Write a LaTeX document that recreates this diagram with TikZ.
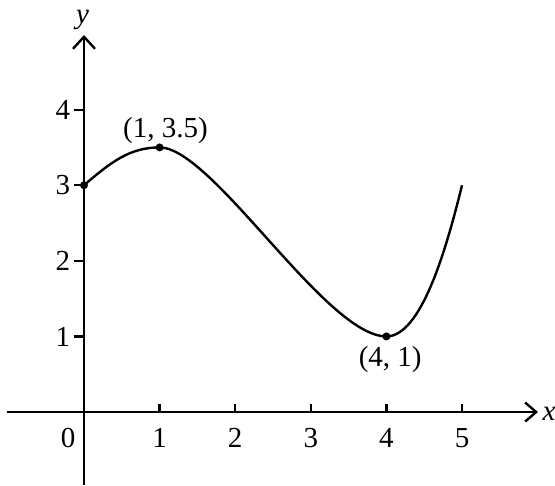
\documentclass[tikz,border=0pt]{standalone}
\usepackage{fontspec}
\setmainfont{Liberation Serif}
\usetikzlibrary{arrows.meta}
\begin{document}
\begin{tikzpicture}[x=75.6pt,y=75.6pt,
  axis/.style={line width=2.4pt},
  tick/.style={line width=2.2pt},
  lbl/.style={font=\fontsize{29}{33}\selectfont, inner sep=0pt},
  ilbl/.style={font=\fontsize{29}{33}\selectfont\itshape, inner sep=0pt},
  dot/.style={circle, fill=black, inner sep=0pt, minimum size=8pt},
  curve/.style={line width=2.4pt}]
\useasboundingbox (-1.111,-0.966) rectangle (6.230,5.450);
% axes
\coordinate (xs) at (-1.02,0);
\coordinate (xe) at (6.005,0);
\coordinate (ys) at (0,-0.97);
\coordinate (ye) at (0,4.987);
\draw[axis,-{Straight Barb[length=11pt,width=19pt,line width=2.4pt]}] (xs) -- (xe);
\draw[axis,-{Straight Barb[length=12pt,width=22pt,line width=2.4pt]}] (ys) -- (ye);
\node[ilbl] (xl) at (6.15,-0.03) {x};
\node[ilbl] (yl) at (-0.02,5.18) {y};
% ticks
\foreach \i in {1,...,5} {
  \draw[tick] (\i,0) -- (\i,0.1);
  \node[lbl] (xt\i) at (\i,-0.344) {\i};
}
\foreach \i in {1,...,4} {
  \draw[tick] (0,\i) -- (-0.13,\i);
  \node[lbl] (yt\i) at (-0.278,\i) {\i};
}
\node[lbl] (zero) at (-0.21,-0.344) {0};
% points
\coordinate (p0) at (0,3);
\coordinate (p1) at (1,3.5);
\coordinate (p2) at (4,1);
\coordinate (p3) at (5,3);
\draw[curve] (p0) .. controls (0.35,3.3) and (0.6,3.5) .. (p1)
  .. controls (1.7,3.5) and (3.2,1.0) .. (p2)
  .. controls (4.45,1) and (4.78,2.1) .. (p3);
\node[dot] (d0) at (p0) {};
\node[dot] (d1) at (p1) {};
\node[dot] (d2) at (p2) {};
\node[lbl] (l1) at (1.078,3.717) {(1, 3.5)};
\node[lbl] (l2) at (4.05,0.69) {(4, 1)};
\end{tikzpicture}
\end{document}
